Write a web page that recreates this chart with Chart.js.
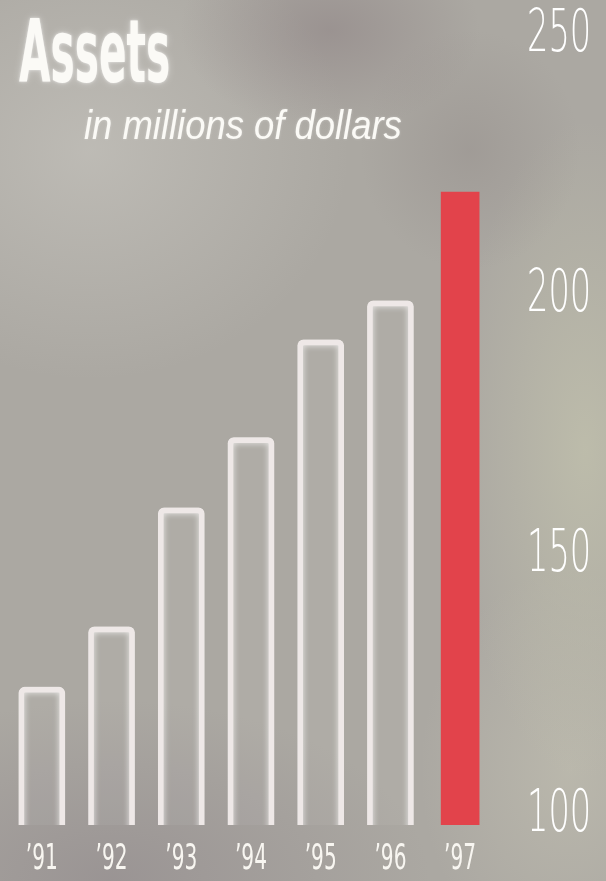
<!DOCTYPE html>
<html><head>
<meta charset="UTF-8">
<title>Assets</title>
<script src="https://cdn.jsdelivr.net/npm/chart.js"></script>
<style>
  html, body { margin: 0; padding: 0; }
  body {
    width: 606px; height: 881px; overflow: hidden; position: relative;
    background:
      radial-gradient(ellipse 150px 100px at 330px 30px, rgba(138,126,128,.5), transparent),
      radial-gradient(ellipse 110px 120px at 470px 150px, rgba(140,132,130,.35), transparent),
      radial-gradient(ellipse 130px 330px at 585px 450px, rgba(196,196,174,.7), transparent),
      radial-gradient(ellipse 260px 230px at 90px 150px, rgba(204,202,196,.55), transparent),
      radial-gradient(ellipse 320px 180px at 110px 880px, rgba(140,132,136,.55), transparent),
      radial-gradient(ellipse 150px 200px at 570px 770px, rgba(198,196,180,.55), transparent),
      #aba8a2;
  }
  canvas { position: absolute; left: 0; top: 0; }
  .txt { position: absolute; white-space: nowrap; color: #fbfaf6; transform-origin: 0 0; line-height: 1; }
  #title {
    left: 19px; top: 8px; font-size: 88px; font-weight: bold;
    font-family: 'DejaVu Sans Condensed', 'DejaVu Sans', sans-serif;
    text-shadow: 0 0 4px rgba(255,255,255,.6), 0 0 12px rgba(255,255,255,.35);
  }
  #subtitle {
    left: 84px; top: 105px; font-size: 41px; font-style: italic;
    font-family: 'Liberation Sans', sans-serif;
    text-shadow: 0 0 3px rgba(255,255,255,.3);
  }
</style>
</head>
<body>
  <canvas id="chart" width="606" height="881"></canvas>
  <span class="txt" id="title">Assets</span>
  <span class="txt" id="subtitle">in millions of dollars</span>
  <script>
    // values
    const years = ['’91', '’92', '’93', '’94', '’95', '’96', '’97'];
    const assets = [124, 135.6, 158.5, 172, 190.8, 198.3, 219.2];
    const yTicks = [100, 150, 200, 250];

    const last = assets.length - 1;
    const pastYears = assets.map((v, i) => i < last ? v : null);
    const thisYear = assets.map((v, i) => i === last ? v : null);

    // squeeze the HTML headings to the widths in the picture
    function fitWidth(id, w) {
      const el = document.getElementById(id);
      el.style.transform = 'scaleX(' + (w / el.offsetWidth) + ')';
    }
    fitWidth('title', 151);
    fitWidth('subtitle', 318);

    const glow = {
      id: 'glow',
      beforeDatasetDraw(chart, args) {
        if (args.index !== 0) return;
        const ctx = chart.ctx;
        ctx.save();
        ctx.shadowColor = 'rgba(255,255,255,0.8)';
        ctx.shadowBlur = 6;
      },
      afterDatasetDraw(chart, args) {
        if (args.index === 0) chart.ctx.restore();
      }
    };

    // no narrow font is installed, so tick labels are drawn squeezed sideways
    const squeeze = {
      id: 'squeeze',
      beforeDraw(chart, args, opts) {
        Object.keys(opts.factor).forEach(id => {
          const scale = chart.scales[id];
          const k = opts.factor[id];
          const dy = opts.shift[id] || 0;
          scale.drawLabels = function (area) {
            const ctx = this.ctx;
            this.getLabelItems(area).forEach(item => {
              const o = item.options;
              ctx.save();
              ctx.translate(o.translation[0], o.translation[1] + dy);
              ctx.scale(k, 1);
              ctx.font = item.font.string;
              ctx.fillStyle = o.color;
              ctx.textAlign = o.textAlign;
              ctx.textBaseline = o.textBaseline;
              ctx.fillText(item.label, 0, item.textOffset);
              ctx.restore();
            });
          };
        });
      }
    };

    new Chart(document.getElementById('chart'), {
      type: 'bar',
      data: {
        labels: years,
        datasets: [
          {
            data: pastYears,
            backgroundColor: 'rgba(255,255,255,0.03)',
            borderColor: '#eee8e7',
            borderWidth: 5,
            borderRadius: 6,
            borderSkipped: false,
            barThickness: 46,
            grouped: false
          },
          {
            data: thisYear,
            backgroundColor: '#e2434b',
            borderWidth: 0,
            barThickness: 38,
            grouped: false
          }
        ]
      },
      options: {
        responsive: false,
        animation: false,
        devicePixelRatio: 1,
        layout: { padding: { left: 3, right: 0, top: 0, bottom: 0 } },
        plugins: {
          legend: { display: false },
          tooltip: { enabled: false },
          squeeze: { factor: { x: 0.56, y: 0.57 }, shift: { x: 0, y: 4 } }
        },
        scales: {
          x: {
            offset: true,
            grid: { display: false, drawTicks: false },
            border: { display: false },
            ticks: {
              color: '#f8f6f1', padding: 13, maxRotation: 0, autoSkip: false,
              font: { family: "'DejaVu Sans'", size: 36, weight: 'normal' }
            },
            afterFit: s => { s.height = 56; }
          },
          y: {
            position: 'right',
            min: 97.5,
            max: 250,
            grid: { display: false, drawTicks: false },
            border: { display: false },
            afterBuildTicks: s => { s.ticks = yTicks.map(v => ({ value: v })); },
            ticks: {
              color: '#ffffff', padding: 32, crossAlign: 'near',
              font: { family: "'DejaVu Sans'", size: 59, weight: 300, lineHeight: '0px' }
            },
            afterFit: s => { s.width = 111; }
          }
        }
      },
      plugins: [glow, squeeze]
    });
  </script>
</body>
</html>
